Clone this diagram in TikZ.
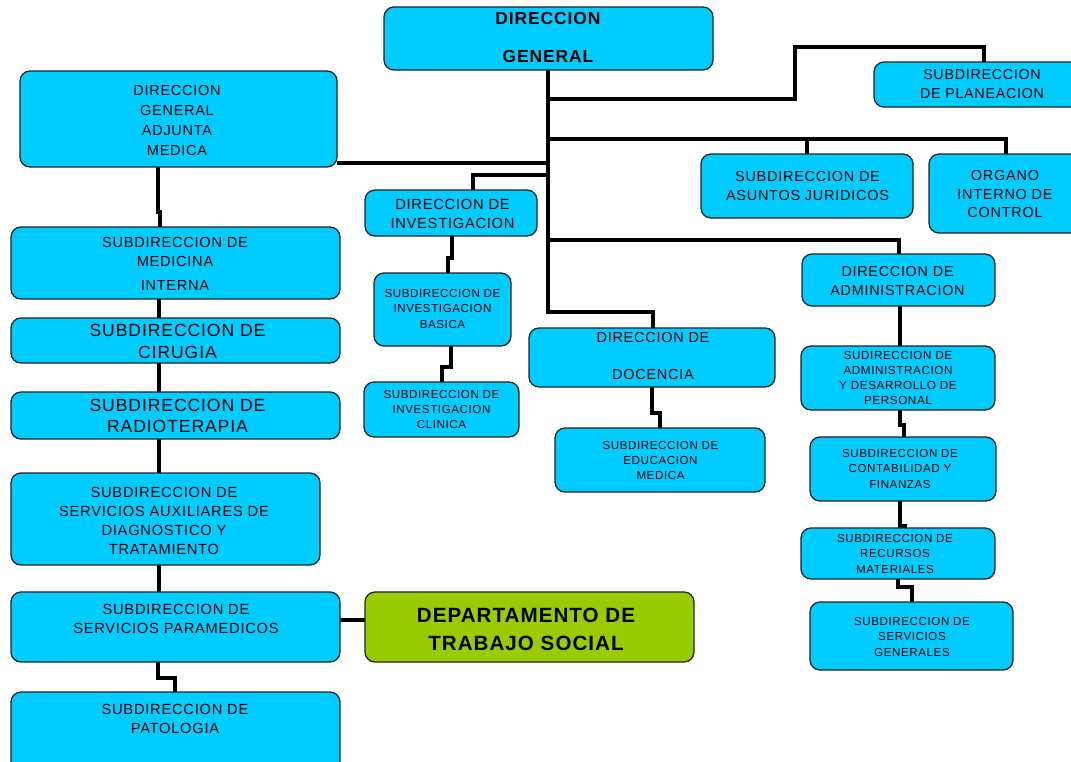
\documentclass[tikz,border=0pt]{standalone}
\usepackage{fontspec}
\usetikzlibrary{backgrounds}
\setmainfont{Liberation Sans}[LetterSpace=5]
\definecolor{cyanbox}{RGB}{0,204,255}
\definecolor{greenbox}{RGB}{153,204,0}
\definecolor{edge}{RGB}{35,35,35}

% box: name, x1, y1, x2, y2 (pixel-like units, y grows downward)
\newcommand\orgbox[6][cyanbox]{%
  \node[unit,fill=#1,minimum width={#5-#3},minimum height={#6-#4}]
    (#2) at ({(#3+#5)/2},{(#4+#6)/2}) {};}
% label: name, size, line skip, x, y, text
\newcommand\orglabel[6]{%
  \node[lbl,font=\fontsize{#2}{#3}\selectfont] (#1) at (#4,#5) {#6};}

\begin{document}
\begin{tikzpicture}[x=1pt,y=-1pt,
  unit/.style={draw=edge,line width=1.3pt,rounded corners=10pt,inner sep=0pt,outer sep=0pt},
  lbl/.style={align=center,inner sep=0pt,text=black},
  conn/.style={draw=black,line width=3.1pt},
  trunk/.style={draw=black,line width=4.2pt}]
\useasboundingbox (0,0) rectangle (1071,761);
\clip (0,0) rectangle (1071,761);

% boxes
\orgbox{dg}{384}{7}{713}{70}
\orgbox{plan}{874}{62}{1085}{107}
\orgbox{dga}{20}{71}{337}{167}
\orgbox{jur}{701}{154}{913}{218}
\orgbox{org}{929}{154}{1085}{233}
\orgbox{inv}{365}{190}{537}{236}
\orgbox{med}{11}{227}{340}{299}
\orgbox{cir}{11}{318}{340}{363}
\orgbox{rad}{11}{392}{340}{439}
\orgbox{aux}{11}{473}{320}{565}
\orgbox{para}{11}{592}{340}{662}
\orgbox[greenbox]{dep}{365}{592}{694}{662}
\orgbox{pat}{11}{692}{340}{775}
\orgbox{bas}{374}{273}{511}{346}
\orgbox{cli}{364}{382}{519}{437}
\orgbox{doc}{529}{328}{775}{387}
\orgbox{edu}{555}{428}{765}{492}
\orgbox{adm}{802}{254}{995}{306}
\orgbox{ady}{801}{346}{995}{410}
\orgbox{cont}{810}{437}{996}{501}
\orgbox{rec}{801}{528}{995}{579}
\orgbox{gen}{810}{602}{1013}{670}

% labels
\orglabel{dg-t}{17.5}{38}{548}{37}{\bfseries DIRECCION\\\bfseries GENERAL}
\orglabel{plan-t}{14.3}{19}{982}{84.5}{SUBDIRECCION\\DE PLANEACION}
\orglabel{dga-t}{14.5}{19.7}{177}{120.5}{DIRECCION\\GENERAL\\ADJUNTA\\MEDICA}
\orglabel{jur-t}{14.5}{19}{807.5}{186.5}{SUBDIRECCION DE\\ASUNTOS JURIDICOS}
\orglabel{org-t}{14.5}{18.5}{1005}{194.5}{ORGANO\\INTERNO DE\\CONTROL}
\orglabel{inv-t}{14.7}{19}{452.5}{213.5}{DIRECCION DE\\INVESTIGACION}
\orglabel{med-t}{14.6}{19}{175}{263.5}{SUBDIRECCION DE\\MEDICINA\\[5pt]INTERNA}
\orglabel{cir-t}{17.6}{22}{177.5}{341}{SUBDIRECCION DE\\CIRUGIA}
\orglabel{rad-t}{17.6}{21}{177.5}{415.5}{SUBDIRECCION DE\\RADIOTERAPIA}
\orglabel{aux-t}{14.7}{19}{164}{520.5}{SUBDIRECCION DE\\SERVICIOS AUXILIARES DE\\DIAGNOSTICO Y\\TRATAMIENTO}
\orglabel{para-t}{14.7}{19}{176}{618.5}{SUBDIRECCION DE\\SERVICIOS PARAMEDICOS}
\orglabel{dep-t}{20.6}{28}{526}{629}{\bfseries DEPARTAMENTO DE\\\bfseries TRABAJO SOCIAL}
\orglabel{pat-t}{14.7}{19}{175}{718.5}{SUBDIRECCION DE\\PATOLOGIA}
\orglabel{bas-t}{11.6}{15.5}{442.5}{308.5}{SUBDIRECCION DE\\INVESTIGACION\\BASICA}
\orglabel{cli-t}{11.6}{15}{441.5}{409}{SUBDIRECCION DE\\INVESTIGACION\\CLINICA}
\orglabel{doc-t}{14.5}{37}{653}{356.5}{DIRECCION DE\\DOCENCIA}
\orglabel{edu-t}{11.6}{15}{660.5}{460}{SUBDIRECCION DE\\EDUCACION\\MEDICA}
\orglabel{adm-t}{14.4}{19}{897.5}{281.5}{DIRECCION DE\\ADMINISTRACION}
\orglabel{ady-t}{11.7}{15}{898}{377.5}{SUDIRECCION DE\\ADMINISTRACION\\Y DESARROLLO DE\\PERSONAL}
\orglabel{cont-t}{11.6}{15.5}{900}{468.5}{SUBDIRECCION DE\\CONTABILIDAD Y\\FINANZAS}
\orglabel{rec-t}{11.6}{15.5}{895}{553.5}{SUBDIRECCION DE\\RECURSOS\\MATERIALES}
\orglabel{gen-t}{11.6}{15.5}{912}{636.5}{SUBDIRECCION DE\\SERVICIOS\\GENERALES}

% connectors, kept behind the boxes
\begin{pgfonlayer}{background}
\fill[white] (0,0) rectangle (1071,761);
\draw[trunk] (dg.south -| 548,0) -- (548,176);
\draw[conn] (548,174) -- (548,312) -- (653,312) -- (doc.north -| 653,0);
\draw[conn] (548,99) -- (795,99) -- (795,47) -- (984,47) -- (plan.north -| 984,0);
\draw[conn] (548,139) -- (1006,139) -- (org.north -| 1006,0);
\draw[conn] (807,139) -- (jur.north -| 807,0);
\draw[conn] (548,163) -- (dga.east |- 0,163);
\draw[conn] (548,175) -- (473,175) -- (inv.north -| 473,0);
\draw[conn] (548,240) -- (899,240) -- (adm.north -| 899,0);
\draw[conn] (inv.south -| 452,0) -- (452,258) -- (448,258) -- (bas.north -| 448,0);
\draw[conn] (bas.south -| 451,0) -- (451,367) -- (442,367) -- (cli.north -| 442,0);
\draw[conn] (doc.south -| 652,0) -- (652,413) -- (660,413) -- (edu.north -| 660,0);
\draw[trunk] (adm.south -| 900,0) -- (ady.north -| 900,0);
\draw[trunk] (ady.south -| 900,0) -- (900,425) -- (904,425) -- (cont.north -| 904,0);
\draw[trunk] (cont.south -| 900,0) -- (900,526) -- (905,526) -- (rec.north -| 905,0);
\draw[conn] (rec.south -| 898,0) -- (898,587) -- (912,587) -- (gen.north -| 912,0);
\draw[trunk] (dga.south -| 158,0) -- (158,212) -- (160,212) -- (med.north -| 160,0);
\draw[conn] (med.south -| 159,0) -- (cir.north -| 159,0);
\draw[conn] (cir.south -| 159,0) -- (rad.north -| 159,0);
\draw[conn] (rad.south -| 159,0) -- (aux.north -| 159,0);
\draw[conn] (aux.south -| 159,0) -- (para.north -| 159,0);
\draw[conn] (para.south -| 158,0) -- (158,678) -- (175,678) -- (pat.north -| 175,0);
\draw[trunk] (para.east |- 0,620) -- (dep.west |- 0,620);
\end{pgfonlayer}
\end{tikzpicture}
\end{document}
